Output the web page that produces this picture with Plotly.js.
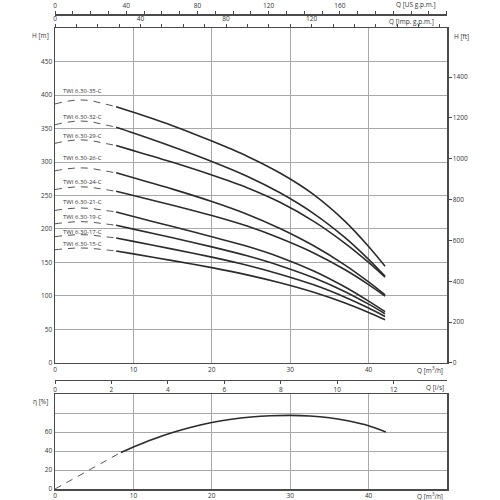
<!DOCTYPE html>
<html>
<head>
<meta charset="utf-8">
<script src="https://cdn.plot.ly/plotly-3.0.1.min.js"></script>
<style>html,body{margin:0;padding:0;background:#fff}#chart{width:500px;height:500px}</style>
</head>
<body>
<div id="chart"></div>
<script>
// ---------- data ----------
const MODELS = ['TWI 6.30-35-C','TWI 6.30-32-C','TWI 6.30-29-C','TWI 6.30-26-C','TWI 6.30-24-C','TWI 6.30-21-C','TWI 6.30-19-C','TWI 6.30-17-C','TWI 6.30-15-C'];
const Q_SOLID = [7.8, 10, 15, 20, 24.5, 28.7, 33, 37, 40, 42.1];
const Q_DASH = [0, 1.5, 3, 4.5, 6, 7.8];

const H_35 = [382.6, 374.2, 354.2, 331.2, 308.7, 283.5, 251.3, 211.3, 173.8, 144.4];
const H_32 = [351.9, 343.3, 322.8, 300.8, 278.8, 254.0, 223.0, 187.0, 154.6, 129.4];
const H_29 = [324.5, 317.0, 299.5, 280.5, 261.6, 239.8, 211.4, 178.6, 150.1, 128.1];
const H_26 = [283.8, 276.5, 259.5, 241.0, 222.1, 200.7, 174.9, 146.1, 120.9, 101.6];
const H_24 = [256.2, 250.0, 235.5, 220.0, 204.3, 186.2, 164.3, 139.1, 116.9, 99.7];
const H_21 = [225.4, 218.6, 203.6, 188.4, 174.2, 158.0, 137.4, 113.4, 92.4, 76.6];
const H_19 = [205.5, 199.8, 186.8, 173.3, 160.0, 145.3, 127.2, 106.4, 87.8, 73.5];
const H_17 = [186.6, 181.5, 170.0, 158.0, 145.9, 132.5, 116.6, 98.2, 82.0, 69.4];
const H_15 = [167.2, 162.8, 152.8, 142.3, 131.5, 119.7, 105.5, 89.5, 75.4, 64.5];

const HD_35 = [386.6, 390.6, 392.6, 391.6, 387.6, 382.6];
const HD_32 = [355.6, 359.3, 361.1, 360.2, 356.5, 351.9];
const HD_29 = [327.9, 331.3, 333.0, 332.1, 328.7, 324.5];
const HD_26 = [286.8, 289.7, 291.2, 290.5, 287.5, 283.8];
const HD_24 = [258.9, 261.6, 262.9, 262.2, 259.6, 256.2];
const HD_21 = [227.8, 230.1, 231.3, 230.7, 228.4, 225.4];
const HD_19 = [207.7, 209.8, 210.9, 210.4, 208.2, 205.5];
const HD_17 = [188.6, 190.5, 191.5, 191.0, 189.0, 186.6];
const HD_15 = [169.0, 170.7, 171.6, 171.2, 169.4, 167.2];

const Q_EFF = [8.4, 10, 12.5, 15, 17.5, 20, 22.5, 25, 27.5, 30, 32.5, 35, 37.5, 40, 42.2];
const ETA = [38.5, 44.3, 52.5, 59.5, 65.3, 70, 73.5, 75.8, 77.1, 77.5, 76.9, 75.0, 71.6, 66.6, 60];
const Q_EFF_DASH = [0, 8.4];
const ETA_DASH = [0, 38.5];

// tick labels / unit conversions
const Q_M3H_TICKS = [0, 10, 20, 30, 40];
const H_M_TICKS = [0, 50, 100, 150, 200, 250, 300, 350, 400, 450];
const H_FT_TICKS = [0, 200, 400, 600, 800, 1000, 1200, 1400];
const Q_LS_TICKS = [0, 2, 4, 6, 8, 10, 12];
const Q_IMP_TICKS = [0, 40, 80, 120];
const Q_US_TICKS = [0, 40, 80, 120, 160];
const ETA_TICKS = [0, 20, 40, 60];
const ETA_EXTRA_GRID = [80];
const Q_MAX = 50, H_MAX = 500;
const M_TO_FT = 3.28084, M3H_TO_LS = 1 / 3.6, M3H_TO_IMP = 3.6662, M3H_TO_US = 4.4029;

// ---------- build ----------
const SOLID = [H_35, H_32, H_29, H_26, H_24, H_21, H_19, H_17, H_15];
const DASHED = [HD_35, HD_32, HD_29, HD_26, HD_24, HD_21, HD_19, HD_17, HD_15];
const LABEL_Y = [405.5, 367.7, 339.3, 305.7, 270.8, 241, 218.6, 195.4, 176.9];

const FONT = 'Open Sans, Noto Sans, sans-serif';
const TXT = '#333';
const GRID = '#a8a8a8';
const LINE = '#4a4a4a';
const tf = {family: FONT, size: 6.5, color: TXT};

const traces = [];
SOLID.forEach((h, i) => {
  traces.push({x: Q_DASH, y: DASHED[i], xaxis: 'x', yaxis: 'y', mode: 'lines', hoverinfo: 'skip',
    line: {color: '#555', width: 1, dash: '7px,6px', shape: 'spline'}});
  traces.push({x: Q_SOLID, y: h, xaxis: 'x', yaxis: 'y', mode: 'lines', name: MODELS[i],
    line: {color: '#2b2b2b', width: 1.6, shape: 'spline', smoothing: 0.8}});
});
traces.push({x: Q_EFF_DASH, y: ETA_DASH, xaxis: 'x5', yaxis: 'y3', mode: 'lines', hoverinfo: 'skip',
  line: {color: '#555', width: 1, dash: '7px,6px'}});
traces.push({x: Q_EFF, y: ETA, xaxis: 'x5', yaxis: 'y3', mode: 'lines',
  line: {color: '#2b2b2b', width: 1.6, shape: 'spline', smoothing: 0.8}});
// empty traces so the secondary axes get created
traces.push({x: [], y: [], xaxis: 'x', yaxis: 'y2', mode: 'lines', hoverinfo: 'skip'});
traces.push({x: [], y: [], xaxis: 'x2', yaxis: 'y', mode: 'lines', hoverinfo: 'skip'});
traces.push({x: [], y: [], xaxis: 'x3', yaxis: 'y', mode: 'lines', hoverinfo: 'skip'});
traces.push({x: [], y: [], xaxis: 'x4', yaxis: 'y', mode: 'lines', hoverinfo: 'skip'});

const mainDom = [0.2653, 0.9705];
const etaDom = [0, 0.2];

const baseAx = {showline: true, linecolor: LINE, linewidth: 1.5, zeroline: false, tickfont: tf, fixedrange: true};

const ann = (text, x, y, xanchor, extra) => Object.assign({text, x, y, xref: 'paper', yref: 'paper', xanchor: xanchor || 'center', yanchor: 'middle', showarrow: false, font: tf}, extra || {});

const annotations = [
  ann('H [m]', -0.0102, 0.9537, 'right'),
  ann('H [ft]', 1.0128, 0.9516, 'left'),
  ann('Q [US g.p.m.]', 0.922, 1.021),
  ann('Q [Imp. g.p.m.]', 0.9094, 0.985),
  ann('Q [m<sup>3</sup>/h]', 0.9554, 0.2499),
  ann('Q [l/s]', 0.9694, 0.2141),
  ann('η [%]', -0.0115, 0.1838, 'right'),
  ann('Q [m<sup>3</sup>/h]', 0.9554, -0.0147)
];
MODELS.forEach((m, i) => {
  annotations.push({text: m, x: 0.8, y: LABEL_Y[i], xref: 'x', yref: 'y', xanchor: 'left', yanchor: 'middle',
    showarrow: false, font: {family: FONT, size: 6, color: TXT}});
});

const layout = {
  width: 500, height: 500,
  margin: {l: 55, r: 53, t: 14, b: 11, pad: 0},
  paper_bgcolor: '#fff', plot_bgcolor: '#fff',
  showlegend: false,
  xaxis: Object.assign({}, baseAx, {domain: [0, 1], anchor: 'y', range: [0, Q_MAX], tickvals: Q_M3H_TICKS,
    showgrid: true, gridcolor: GRID, gridwidth: 1, ticks: '', ticklen: 0}),
  yaxis: Object.assign({}, baseAx, {domain: mainDom, anchor: 'x', range: [0, H_MAX], tickvals: H_M_TICKS,
    showgrid: true, gridcolor: GRID, gridwidth: 1, ticks: ''}),
  yaxis2: Object.assign({}, baseAx, {overlaying: 'y', side: 'right', anchor: 'x', range: [0, H_MAX * M_TO_FT],
    tickvals: H_FT_TICKS, showgrid: false, ticks: 'outside', ticklen: 3, tickcolor: LINE}),
  xaxis2: Object.assign({}, baseAx, {overlaying: 'x', anchor: 'free', position: 0.2295, side: 'bottom',
    range: [0, Q_MAX * M3H_TO_LS], tickvals: Q_LS_TICKS, showgrid: false, ticks: 'outside', ticklen: 3, tickcolor: LINE}),
  xaxis3: Object.assign({}, baseAx, {overlaying: 'x', anchor: 'y', side: 'top',
    range: [0, Q_MAX * M3H_TO_IMP], tickvals: Q_IMP_TICKS, showgrid: false, ticks: 'outside', ticklen: 3, tickcolor: LINE,
    minor: {dtick: 10, ticks: 'outside', ticklen: 3, tickcolor: LINE, showgrid: false}}),
  xaxis4: Object.assign({}, baseAx, {overlaying: 'x', anchor: 'free', position: 1, side: 'top',
    range: [0, Q_MAX * M3H_TO_US], tickvals: Q_US_TICKS, showgrid: false, ticks: 'outside', ticklen: 3, tickcolor: LINE,
    minor: {dtick: 10, ticks: 'outside', ticklen: 3, tickcolor: LINE, showgrid: false}}),
  xaxis5: Object.assign({}, baseAx, {domain: [0, 1], anchor: 'y3', range: [0, Q_MAX], tickvals: Q_M3H_TICKS,
    showgrid: true, gridcolor: GRID, ticks: '', mirror: true}),
  yaxis3: Object.assign({}, baseAx, {domain: etaDom, anchor: 'x5', range: [0, 100], tickvals: ETA_TICKS,
    showgrid: true, gridcolor: GRID, ticks: '', mirror: true,
    minor: {tickvals: ETA_EXTRA_GRID, showgrid: true, gridcolor: GRID, gridwidth: 1, ticks: ''}}),
  annotations: annotations
};

Plotly.newPlot('chart', traces, layout, {displayModeBar: false, staticPlot: true});
</script>
</body>
</html>
